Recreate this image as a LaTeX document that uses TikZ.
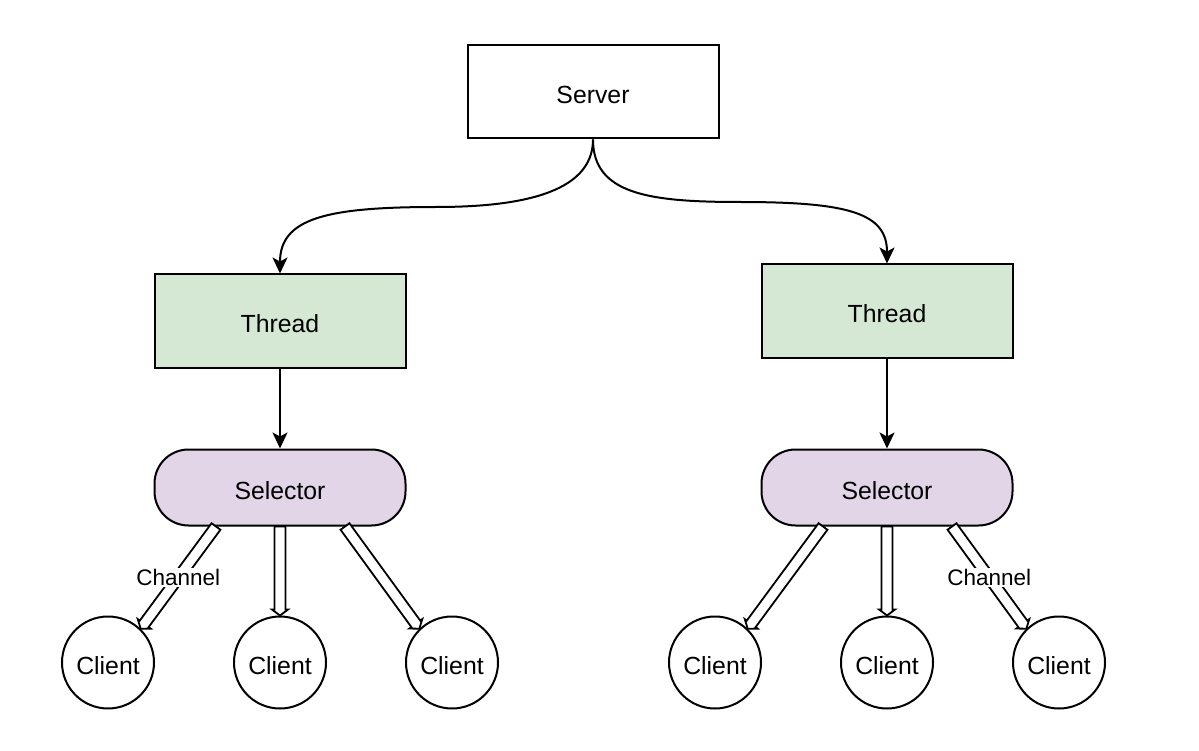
\documentclass[tikz,border=0pt]{standalone}
\usepackage{fontspec}
\setmainfont{Liberation Sans}
\usetikzlibrary{arrows.meta,calc}
\definecolor{threadgreen}{HTML}{D5E8D4}
\definecolor{selpurple}{HTML}{E1D5E7}
\newcommand{\flexarrow}[2]{%
  \coordinate (fh) at ($(#2)!6pt!(#1)$);
  \draw[flex] ($(#1)!5.5pt!90:(#2)$) -- ($(fh)!5.5pt!90:(#2)$) -- ($(fh)!8pt!90:(#2)$) -- (#2)
    -- ($(fh)!8pt!-90:(#2)$) -- ($(fh)!5.5pt!-90:(#2)$) -- ($(#1)!5.5pt!-90:(#2)$) -- cycle;
}
\begin{document}
\begin{tikzpicture}[x=1pt,y=-1pt,
  box/.style={draw=black, line width=2pt, minimum width=251pt, minimum height=93pt, inner sep=0pt, text height=26pt, text depth=2.2pt, font=\fontsize{24.8}{30}\selectfont},
  thread/.style={box, fill=threadgreen},
  selector/.style={box, fill=selpurple, rounded corners=34pt, minimum height=76pt},
  client/.style={draw=black, circle, line width=2pt, minimum size=92pt, inner sep=0pt, text height=26pt, text depth=2.2pt, font=\fontsize{24.8}{30}\selectfont},
  conn/.style={line width=2pt, -{Stealth[length=16pt,width=15pt,inset=4pt]}},
  flex/.style={draw=black, line width=1.8pt, fill=white, line join=miter},
  chan/.style={fill=white, inner sep=1pt, font=\fontsize{22.5}{27}\selectfont}
]
\useasboundingbox (0,0) rectangle (1199,751);
\fill[white] (0,0) rectangle (1199,751);

\node[box] (server) at (593,92) {Server};
\node[thread] (thL) at (280,321) {Thread};
\node[thread] (thR) at (887,311) {Thread};
\node[selector] (selL) at (280,487.5) {Selector};
\node[selector] (selR) at (887,487.5) {Selector};

\node[client] (c1) at (108,662.5) {Client};
\node[client] (c2) at (280,662.5) {Client};
\node[client] (c3) at (452,662.5) {Client};
\node[client] (c4) at (715,662.5) {Client};
\node[client] (c5) at (887,662.5) {Client};
\node[client] (c6) at (1059,662.5) {Client};

\coordinate (m1) at (436,207);
\coordinate (m2) at (740,202);
\draw[conn] (server.south) .. controls +(0,55) and +(80,0) .. (m1) .. controls +(-110,0) and +(0,-55) .. (thL.north);
\draw[conn] (server.south) .. controls +(0,55) and +(-90,0) .. (m2) .. controls +(110,0) and +(0,-50) .. (thR.north);
\draw[conn] (thL) -- (selL);
\draw[conn] (thR) -- (selR);

\coordinate (a1) at ($(selL.south)+(-64,0)$);
\coordinate (a3) at ($(selL.south)+(65,0)$);
\coordinate (b1) at ($(selR.south)+(-64,0)$);
\coordinate (b3) at ($(selR.south)+(65,0)$);

\flexarrow{a1}{c1.46}
\flexarrow{selL.south}{c2.north}
\flexarrow{a3}{c3.134}
\flexarrow{b1}{c4.46}
\flexarrow{selR.south}{c5.north}
\flexarrow{b3}{c6.134}

\node[chan] (chL) at ($(a1)!0.5!(c1.46)$) {Channel};
\node[chan] (chR) at ($(b3)!0.5!(c6.134)$) {Channel};
\end{tikzpicture}
\end{document}
